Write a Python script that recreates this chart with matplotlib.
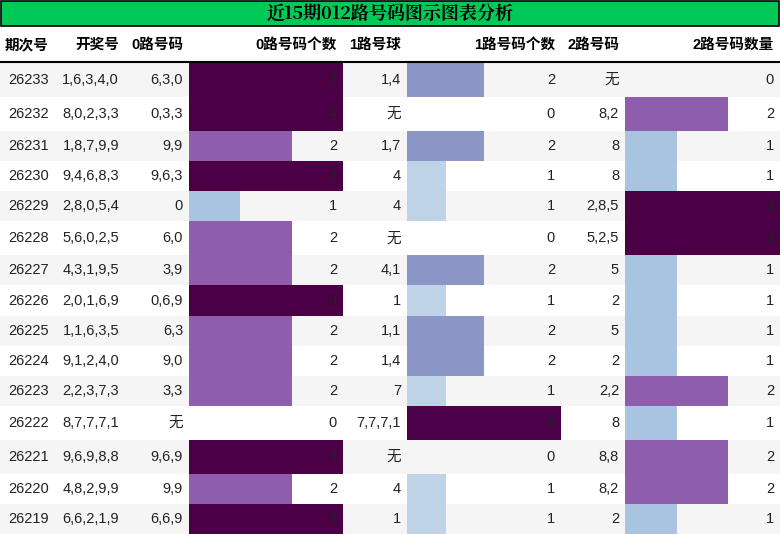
import matplotlib
matplotlib.use("Agg")
import matplotlib.pyplot as plt
from matplotlib.patches import Rectangle

plt.rcParams['font.family'] = ['Liberation Sans', 'Noto Sans CJK SC', 'DejaVu Sans']

title = "近15期012路号码图示图表分析"
headers = ["期次号", "开奖号", "0路号码", "0路号码个数", "1路号球", "1路号码个数", "2路号码", "2路号码数量"]
periods = ["26233", "26232", "26231", "26230", "26229", "26228", "26227", "26226",
           "26225", "26224", "26223", "26222", "26221", "26220", "26219"]
draws = ["1,6,3,4,0", "8,0,2,3,3", "1,8,7,9,9", "9,4,6,8,3", "2,8,0,5,4", "5,6,0,2,5",
         "4,3,1,9,5", "2,0,1,6,9", "1,1,6,3,5", "9,1,2,4,0", "2,2,3,7,3", "8,7,7,7,1",
         "9,6,9,8,8", "4,8,2,9,9", "6,6,2,1,9"]
road0 = ["6,3,0", "0,3,3", "9,9", "9,6,3", "0", "6,0", "3,9", "0,6,9", "6,3", "9,0",
         "3,3", "无", "9,6,9", "9,9", "6,6,9"]
cnt0 = [3, 3, 2, 3, 1, 2, 2, 3, 2, 2, 2, 0, 3, 2, 3]
road1 = ["1,4", "无", "1,7", "4", "4", "无", "4,1", "1", "1,1", "1,4", "7", "7,7,7,1",
         "无", "4", "1"]
cnt1 = [2, 0, 2, 1, 1, 0, 2, 1, 2, 2, 1, 4, 0, 1, 1]
road2 = ["无", "8,2", "8", "8", "2,8,5", "5,2,5", "5", "2", "5", "2", "2,2", "8", "8,8",
         "8,2", "2"]
cnt2 = [0, 2, 1, 1, 3, 3, 1, 1, 1, 1, 2, 1, 2, 2, 1]

colors0 = {1: "#a9c4e0", 2: "#8e5ead", 3: "#4b0045"}
colors1 = {1: "#bfd3e6", 2: "#8c96c6", 4: "#4d004b"}

W, H = 780, 534
fig = plt.figure(figsize=(W / 100, H / 100), dpi=100)
ax = fig.add_axes([0, 0, 1, 1])
ax.set_xlim(0, W)
ax.set_ylim(H, 0)
ax.axis("off")

# column edges
edges = [0, 55, 125, 189, 343, 407, 561, 625, 780]
pad = 6

# title bar
ax.add_patch(Rectangle((1, 1), W - 2, 25, facecolor="#00c957", edgecolor="black", lw=1.2))
ax.text(W / 2, 14, title, ha="center", va="center", fontsize=13, fontweight="bold",
        family=["Noto Serif CJK SC", "Liberation Serif", "Noto Sans CJK SC"])

# header
hy = 45
for i, h in enumerate(headers):
    ax.text(edges[i + 1] - pad, hy, h, ha="right", va="center", fontsize=10.5,
            fontweight="bold", family=["Liberation Sans", "Noto Sans CJK SC"])
ax.plot([0, W], [62, 62], color="black", lw=1.5)

# row heights: rows with 无 are a bit taller
raw = [34 if "无" in (a + b + c) else 30 for a, b, c in zip(road0, road1, road2)]
scale = (H - 63) / sum(raw)
y = 63
for r in range(len(periods)):
    h = raw[r] * scale
    if r % 2 == 0:
        ax.add_patch(Rectangle((0, y), W, h, facecolor="#f5f5f5", edgecolor="none"))
    cy = y + h / 2
    vals = [periods[r], draws[r], road0[r], str(cnt0[r]), road1[r], str(cnt1[r]),
            road2[r], str(cnt2[r])]
    bars = {3: (cnt0[r], 3, colors0), 5: (cnt1[r], 4, colors1), 7: (cnt2[r], 3, colors0)}
    for c, v in enumerate(vals):
        if c in bars:
            n, mx, cmap = bars[c]
            if n > 0:
                x0 = edges[c]
                ax.add_patch(Rectangle((x0, y), (edges[c + 1] - x0) * n / mx, h,
                                       facecolor=cmap[n], edgecolor="none"))
        ax.text(edges[c + 1] - pad, cy, v, ha="right", va="center", fontsize=10.5,
                color="#222222")
    y += h

fig.savefig("out.png", dpi=100)
